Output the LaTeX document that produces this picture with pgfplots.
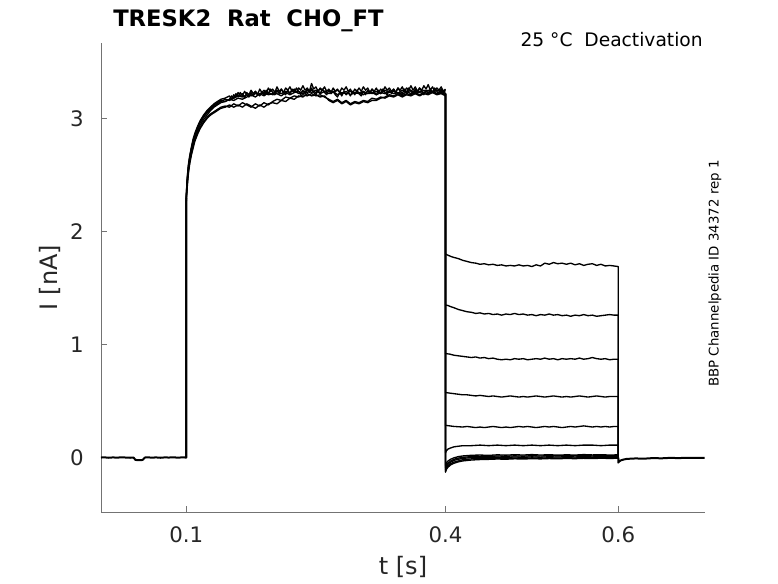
\documentclass[border=0pt]{standalone}
\usepackage{pgfplots}
\pgfplotsset{compat=1.18}
\usepackage{fontspec}
\setmainfont{DejaVu Sans}
\definecolor{txt}{HTML}{262626}
\definecolor{axc}{HTML}{737373}
\begin{document}
\begin{tikzpicture}
\path[use as bounding box] (-75.75pt,-53.25pt) rectangle (507.75pt,384pt);
\begin{axis}[
  at={(0,0)}, anchor=south west,
  scale only axis, width=453pt, height=351.75pt,
  xmin=0.0013, xmax=0.7004, ymin=-0.482, ymax=3.668,
  axis x line=bottom, axis y line=left,
  axis line style={-, draw=axc, line width=0.6pt},
  tick style={draw=axc, line width=0.6pt},
  tick align=inside, major tick length=4.5pt,
  xtick={0.1,0.4,0.6}, ytick={0,1,2,3},
  xticklabels={0.1,0.4,0.6}, yticklabels={0,1,2,3},
  /pgf/number format/assume math mode=true,
  ticklabel style={font=\fontsize{16}{19}\selectfont, text=txt, inner sep=0pt},
  xticklabel style={anchor=north, yshift=-11pt},
  yticklabel style={anchor=east, xshift=-12.75pt},
  xlabel={t [s]}, ylabel={I [nA]},
  label style={font=\fontsize{18}{21}\selectfont, text=txt, inner sep=0pt},
  xlabel style={at={(rel axis cs:0.5,0)}, anchor=center, yshift=-41.25pt},
  ylabel style={at={(rel axis cs:0,0.5)}, anchor=center, yshift=38.25pt},
  clip=false,
  trace/.style={black, line width=1pt, line join=round},
  thick trace/.style={black, line width=1.5pt, line join=round},
]
% baseline (shared)
\addplot[thick trace] coordinates {(0.0013,0.0)(0.005,0.002)(0.01,-0.002)(0.015,0.001)(0.02,-0.001)(0.025,0.002)(0.03,0.0)(0.035,-0.002)(0.039,0.0)(0.041,-0.02)(0.044,-0.024)(0.048,-0.024)(0.05,-0.018)(0.052,0.0)(0.055,0.002)(0.06,-0.001)(0.065,0.001)(0.07,-0.002)(0.075,0.001)(0.08,0.0)(0.085,0.002)(0.09,-0.001)(0.095,0.001)(0.1,0.0)(0.1,2.3)};
% activation
\addplot[trace] coordinates {(0.1,0)(0.1,2.32)(0.1008,2.44)(0.1016,2.52)(0.1026,2.6)(0.104,2.67)(0.106,2.75)(0.108,2.82)(0.11,2.87)(0.113,2.93)(0.116,2.98)(0.12,3.03)(0.124,3.07)(0.128,3.1)(0.132,3.13)(0.136,3.15)(0.14,3.17)(0.145,3.18)
(0.15,3.2)(0.1525,3.17)(0.155,3.21)(0.1575,3.19)(0.16,3.23)(0.1625,3.2)(0.165,3.22)(0.1675,3.18)(0.17,3.23)(0.1725,3.21)(0.175,3.25)(0.1775,3.22)(0.18,3.24)(0.1825,3.21)(0.185,3.26)(0.1875,3.23)(0.19,3.25)(0.1925,3.22)(0.195,3.27)(0.1975,3.24)(0.2,3.26)(0.2025,3.23)(0.205,3.28)(0.2075,3.24)(0.21,3.26)(0.2125,3.23)(0.215,3.27)(0.2175,3.25)(0.22,3.28)(0.2225,3.24)(0.225,3.26)(0.2275,3.23)(0.23,3.27)(0.2325,3.25)(0.235,3.29)(0.2375,3.25)(0.24,3.27)(0.2425,3.24)(0.245,3.31)(0.2475,3.26)(0.25,3.28)(0.2525,3.24)(0.255,3.27)(0.2575,3.25)(0.26,3.28)(0.2625,3.24)(0.265,3.26)(0.2675,3.23)(0.27,3.27)(0.2725,3.24)(0.275,3.26)(0.2775,3.23)(0.28,3.27)(0.2825,3.25)(0.285,3.28)(0.2875,3.24)(0.29,3.26)(0.2925,3.22)(0.295,3.26)(0.2975,3.24)(0.3,3.27)(0.3025,3.24)(0.305,3.28)(0.3075,3.25)(0.31,3.27)(0.3125,3.23)(0.315,3.26)(0.3175,3.24)(0.32,3.27)(0.3225,3.23)(0.325,3.26)(0.3275,3.24)(0.33,3.28)(0.3325,3.25)(0.335,3.27)(0.3375,3.24)(0.34,3.26)(0.3425,3.23)(0.345,3.27)(0.3475,3.25)(0.35,3.28)(0.3525,3.24)(0.355,3.27)(0.3575,3.25)(0.36,3.29)(0.3625,3.25)(0.365,3.28)(0.3675,3.24)(0.37,3.27)(0.3725,3.25)(0.375,3.29)(0.3775,3.26)(0.38,3.3)(0.3825,3.25)(0.385,3.28)(0.3875,3.24)(0.39,3.27)(0.3925,3.25)(0.395,3.28)(0.3975,3.24)(0.4,3.26)};
\addplot[trace] coordinates {(0.1,0)(0.1,2.3)(0.1008,2.42)(0.1016,2.5)(0.1026,2.58)(0.104,2.65)(0.106,2.73)(0.108,2.8)(0.11,2.85)(0.113,2.91)(0.116,2.96)(0.12,3.01)(0.124,3.05)(0.128,3.08)(0.132,3.11)(0.136,3.13)(0.14,3.15)(0.145,3.17)(0.15,3.16)(0.155,3.18)(0.16,3.2)(0.165,3.19)(0.17,3.21)(0.175,3.2)(0.18,3.22)(0.185,3.21)(0.19,3.23)(0.195,3.21)(0.2,3.22)(0.205,3.24)(0.21,3.22)(0.215,3.24)(0.22,3.23)(0.225,3.25)(0.23,3.22)(0.235,3.24)(0.24,3.23)(0.245,3.25)(0.25,3.23)(0.255,3.26)(0.26,3.24)(0.265,3.25)(0.27,3.23)(0.275,3.25)(0.28,3.22)(0.285,3.24)(0.29,3.21)(0.295,3.23)(0.3,3.22)(0.305,3.24)(0.31,3.22)(0.315,3.23)(0.32,3.21)(0.325,3.23)(0.33,3.22)(0.335,3.24)(0.34,3.22)(0.345,3.23)(0.35,3.21)(0.355,3.24)(0.36,3.22)(0.365,3.24)(0.37,3.23)(0.375,3.25)(0.38,3.23)(0.385,3.24)(0.39,3.22)(0.395,3.25)(0.4,3.23)};
\addplot[trace] coordinates {(0.1,0)(0.1,2.28)(0.1008,2.38)(0.1016,2.46)(0.1026,2.54)(0.104,2.61)(0.106,2.69)(0.108,2.76)(0.11,2.81)(0.113,2.87)(0.116,2.92)(0.12,2.97)(0.124,3.01)(0.128,3.04)(0.132,3.06)(0.136,3.08)(0.14,3.1)(0.145,3.11)(0.15,3.1)(0.155,3.13)(0.16,3.11)(0.165,3.14)(0.17,3.12)(0.175,3.1)(0.18,3.13)(0.185,3.11)(0.19,3.14)(0.195,3.12)(0.2,3.15)(0.205,3.17)(0.21,3.16)(0.215,3.19)(0.22,3.18)(0.225,3.2)(0.23,3.19)(0.235,3.21)(0.24,3.2)(0.245,3.22)(0.25,3.2)(0.255,3.21)(0.26,3.19)(0.265,3.17)(0.27,3.15)(0.275,3.17)(0.28,3.14)(0.285,3.16)(0.29,3.13)(0.295,3.15)(0.3,3.14)(0.305,3.16)(0.31,3.15)(0.315,3.18)(0.32,3.17)(0.325,3.19)(0.33,3.18)(0.335,3.2)(0.34,3.19)(0.345,3.21)(0.35,3.19)(0.355,3.21)(0.36,3.2)(0.365,3.22)(0.37,3.2)(0.375,3.22)(0.38,3.21)(0.385,3.23)(0.39,3.21)(0.395,3.22)(0.4,3.2)};
\addplot[trace] coordinates {(0.1,0)(0.1,2.26)(0.1008,2.36)(0.1016,2.44)(0.1026,2.52)(0.104,2.6)(0.106,2.68)(0.108,2.74)(0.11,2.8)(0.113,2.86)(0.116,2.91)(0.12,2.96)(0.124,3.0)(0.128,3.03)(0.132,3.05)(0.136,3.07)(0.14,3.09)(0.145,3.1)(0.15,3.12)(0.155,3.1)(0.16,3.12)(0.165,3.1)(0.17,3.13)(0.175,3.11)(0.18,3.09)(0.185,3.12)(0.19,3.1)(0.195,3.13)(0.2,3.14)(0.205,3.13)(0.21,3.16)(0.215,3.15)(0.22,3.18)(0.225,3.17)(0.23,3.2)(0.235,3.19)(0.24,3.22)(0.245,3.2)(0.25,3.21)(0.255,3.19)(0.26,3.2)(0.265,3.16)(0.27,3.14)(0.275,3.16)(0.28,3.13)(0.285,3.15)(0.29,3.12)(0.295,3.14)(0.3,3.13)(0.305,3.15)(0.31,3.14)(0.315,3.16)(0.32,3.16)(0.325,3.18)(0.33,3.19)(0.335,3.21)(0.34,3.2)(0.345,3.22)(0.35,3.2)(0.355,3.22)(0.36,3.21)(0.365,3.23)(0.37,3.21)(0.375,3.23)(0.38,3.22)(0.385,3.24)(0.39,3.22)(0.395,3.23)(0.4,3.21)};
\addplot[trace] coordinates {(0.1,0)(0.1,2.31)(0.1008,2.43)(0.1016,2.51)(0.1026,2.59)(0.104,2.66)(0.106,2.74)(0.108,2.81)(0.11,2.86)(0.113,2.92)(0.116,2.97)(0.12,3.02)(0.124,3.06)(0.128,3.09)(0.132,3.12)(0.136,3.14)(0.14,3.16)(0.145,3.15)
(0.15,3.17)(0.1525,3.2)(0.155,3.18)(0.1575,3.22)(0.16,3.19)(0.1625,3.23)(0.165,3.2)(0.1675,3.24)(0.17,3.21)(0.1725,3.19)(0.175,3.23)(0.1775,3.2)(0.18,3.24)(0.1825,3.22)(0.185,3.2)(0.1875,3.24)(0.19,3.21)(0.1925,3.25)(0.195,3.22)(0.1975,3.26)(0.2,3.23)(0.2025,3.21)(0.205,3.25)(0.2075,3.22)(0.21,3.26)(0.2125,3.23)(0.215,3.21)(0.2175,3.25)(0.22,3.22)(0.2225,3.26)(0.225,3.23)(0.2275,3.27)(0.23,3.24)(0.2325,3.21)(0.235,3.25)(0.2375,3.22)(0.24,3.26)(0.2425,3.23)(0.245,3.27)(0.2475,3.23)(0.25,3.21)(0.2525,3.25)(0.255,3.22)(0.2575,3.26)(0.26,3.23)(0.2625,3.21)(0.265,3.25)(0.2675,3.22)(0.27,3.24)(0.2725,3.21)(0.275,3.19)(0.2775,3.23)(0.28,3.2)(0.2825,3.24)(0.285,3.21)(0.2875,3.23)(0.29,3.2)(0.2925,3.24)(0.295,3.21)(0.2975,3.25)(0.3,3.22)(0.3025,3.2)(0.305,3.24)(0.3075,3.21)(0.31,3.25)(0.3125,3.22)(0.315,3.26)(0.3175,3.23)(0.32,3.21)(0.3225,3.25)(0.325,3.22)(0.3275,3.26)(0.33,3.23)(0.3325,3.21)(0.335,3.25)(0.3375,3.22)(0.34,3.26)(0.3425,3.23)(0.345,3.27)(0.3475,3.24)(0.35,3.22)(0.3525,3.26)(0.355,3.23)(0.3575,3.27)(0.36,3.24)(0.3625,3.22)(0.365,3.26)(0.3675,3.23)(0.37,3.27)(0.3725,3.24)(0.375,3.21)(0.3775,3.25)(0.38,3.22)(0.3825,3.26)(0.385,3.23)(0.3875,3.27)(0.39,3.24)(0.3925,3.22)(0.395,3.26)(0.3975,3.23)(0.4,3.25)};
\addplot[trace] coordinates {(0.1,0)(0.1,2.29)(0.1008,2.4)(0.1016,2.48)(0.1026,2.56)(0.104,2.63)(0.106,2.71)(0.108,2.78)(0.11,2.83)(0.113,2.89)(0.116,2.94)(0.12,2.99)(0.124,3.03)(0.128,3.07)(0.132,3.1)(0.136,3.12)(0.14,3.14)(0.145,3.15)(0.15,3.17)(0.155,3.16)(0.16,3.18)(0.165,3.17)(0.17,3.19)(0.175,3.21)(0.18,3.19)(0.185,3.22)(0.19,3.2)(0.195,3.23)(0.2,3.21)(0.205,3.22)(0.21,3.2)(0.215,3.23)(0.22,3.21)(0.225,3.23)(0.23,3.24)(0.235,3.22)(0.24,3.25)(0.245,3.23)(0.25,3.25)(0.255,3.22)(0.26,3.24)(0.265,3.22)(0.27,3.24)(0.275,3.21)(0.28,3.23)(0.285,3.22)(0.29,3.24)(0.295,3.22)(0.3,3.23)(0.305,3.21)(0.31,3.24)(0.315,3.22)(0.32,3.24)(0.325,3.22)(0.33,3.25)(0.335,3.23)(0.34,3.24)(0.345,3.22)(0.35,3.25)(0.355,3.23)(0.36,3.25)(0.365,3.22)(0.37,3.24)(0.375,3.23)(0.38,3.25)(0.385,3.23)(0.39,3.25)(0.395,3.24)(0.4,3.22)};
% deactivation
\addplot[trace] coordinates {(0.4,3.22)(0.4,1.80)(0.403,1.79)(0.406,1.78)(0.41,1.77)(0.415,1.76)(0.42,1.745)(0.425,1.735)(0.43,1.725)(0.435,1.72)(0.44,1.71)(0.445,1.715)(0.45,1.705)(0.455,1.71)(0.46,1.70)(0.465,1.705)(0.47,1.695)(0.475,1.70)(0.48,1.695)(0.485,1.705)(0.49,1.695)(0.495,1.70)(0.5,1.69)(0.505,1.705)(0.51,1.695)(0.515,1.72)(0.52,1.71)(0.525,1.725)(0.53,1.715)(0.535,1.72)(0.54,1.71)(0.545,1.72)(0.55,1.705)(0.555,1.715)(0.56,1.70)(0.565,1.71)(0.57,1.715)(0.575,1.70)(0.58,1.71)(0.585,1.695)(0.59,1.70)(0.595,1.695)(0.6,1.69)(0.6,0)};
\addplot[trace] coordinates {(0.4,3.22)(0.4,1.35)(0.403,1.345)(0.406,1.335)(0.41,1.325)(0.415,1.31)(0.42,1.30)(0.425,1.29)(0.43,1.285)(0.435,1.275)(0.44,1.28)(0.445,1.27)(0.45,1.275)(0.455,1.265)(0.46,1.27)(0.465,1.26)(0.47,1.27)(0.475,1.265)(0.48,1.275)(0.485,1.265)(0.49,1.27)(0.495,1.26)(0.5,1.265)(0.505,1.255)(0.51,1.265)(0.515,1.26)(0.52,1.27)(0.525,1.26)(0.53,1.265)(0.535,1.255)(0.54,1.26)(0.545,1.25)(0.55,1.26)(0.555,1.255)(0.56,1.265)(0.565,1.255)(0.57,1.26)(0.575,1.25)(0.58,1.255)(0.585,1.26)(0.59,1.265)(0.595,1.26)(0.6,1.26)(0.6,0)};
\addplot[trace] coordinates {(0.4,3.22)(0.4,0.92)(0.405,0.915)(0.41,0.905)(0.415,0.90)(0.42,0.895)(0.425,0.89)(0.43,0.885)(0.435,0.89)(0.44,0.88)(0.445,0.885)(0.45,0.875)(0.455,0.88)(0.46,0.87)(0.465,0.865)(0.47,0.87)(0.475,0.865)(0.48,0.875)(0.485,0.87)(0.49,0.875)(0.495,0.865)(0.5,0.87)(0.505,0.875)(0.51,0.87)(0.515,0.88)(0.52,0.87)(0.525,0.875)(0.53,0.865)(0.535,0.875)(0.54,0.87)(0.545,0.875)(0.55,0.87)(0.555,0.88)(0.56,0.87)(0.565,0.875)(0.57,0.885)(0.575,0.875)(0.58,0.87)(0.585,0.875)(0.59,0.865)(0.595,0.87)(0.6,0.87)(0.6,0)};
\addplot[trace] coordinates {(0.4,3.22)(0.4,0.575)(0.405,0.57)(0.41,0.565)(0.415,0.56)(0.42,0.555)(0.425,0.555)(0.43,0.55)(0.435,0.545)(0.44,0.55)(0.445,0.545)(0.45,0.54)(0.455,0.545)(0.46,0.54)(0.465,0.535)(0.47,0.54)(0.475,0.545)(0.48,0.54)(0.485,0.535)(0.49,0.54)(0.495,0.535)(0.5,0.54)(0.505,0.545)(0.51,0.54)(0.515,0.535)(0.52,0.54)(0.525,0.545)(0.53,0.54)(0.535,0.535)(0.54,0.54)(0.545,0.535)(0.55,0.54)(0.555,0.545)(0.56,0.54)(0.565,0.535)(0.57,0.54)(0.575,0.545)(0.58,0.54)(0.585,0.535)(0.59,0.54)(0.595,0.54)(0.6,0.54)(0.6,0)};
\addplot[trace] coordinates {(0.4,3.22)(0.4,0.285)(0.405,0.28)(0.41,0.275)(0.42,0.27)(0.425,0.275)(0.43,0.27)(0.435,0.265)(0.44,0.27)(0.445,0.265)(0.45,0.27)(0.455,0.275)(0.46,0.27)(0.465,0.265)(0.47,0.27)(0.475,0.265)(0.48,0.27)(0.485,0.275)(0.49,0.27)(0.495,0.275)(0.5,0.27)(0.505,0.265)(0.51,0.27)(0.515,0.275)(0.52,0.27)(0.525,0.275)(0.53,0.27)(0.535,0.265)(0.54,0.27)(0.545,0.275)(0.55,0.27)(0.555,0.275)(0.56,0.28)(0.565,0.275)(0.57,0.27)(0.575,0.275)(0.58,0.27)(0.585,0.275)(0.59,0.27)(0.595,0.275)(0.6,0.275)(0.6,0)};
\addplot[trace] coordinates {(0.4,3.22)(0.4,0.04)(0.401,0.06)(0.403,0.075)(0.406,0.085)(0.41,0.095)(0.415,0.1)(0.42,0.105)(0.43,0.105)(0.44,0.11)(0.45,0.105)(0.46,0.11)(0.47,0.105)(0.48,0.11)(0.49,0.105)(0.5,0.11)(0.51,0.105)(0.52,0.11)(0.53,0.105)(0.54,0.11)(0.55,0.105)(0.56,0.11)(0.57,0.11)(0.58,0.105)(0.59,0.11)(0.6,0.11)(0.6,0)};
\addplot[trace] coordinates {(0.4,3.22)(0.4,-0.13)(0.401,-0.1)(0.403,-0.075)(0.406,-0.055)(0.41,-0.04)(0.415,-0.03)(0.42,-0.02)(0.43,-0.012)(0.44,-0.008)(0.45,-0.01)(0.46,-0.005)(0.47,-0.008)(0.48,-0.004)(0.49,-0.007)(0.5,-0.003)(0.51,-0.006)(0.52,-0.002)(0.53,-0.005)(0.54,-0.002)(0.55,-0.004)(0.56,0.0)(0.57,-0.003)(0.58,0.0)(0.59,-0.002)(0.6,0.0)};
\addplot[trace] coordinates {(0.4,3.22)(0.4,-0.11)(0.401,-0.085)(0.403,-0.06)(0.406,-0.04)(0.41,-0.025)(0.415,-0.015)(0.42,-0.008)(0.43,0.0)(0.44,0.003)(0.45,0.0)(0.46,0.004)(0.47,0.001)(0.48,0.005)(0.49,0.002)(0.5,0.006)(0.51,0.003)(0.52,0.007)(0.53,0.004)(0.54,0.008)(0.55,0.005)(0.56,0.008)(0.57,0.005)(0.58,0.009)(0.59,0.006)(0.6,0.008)};
\addplot[trace] coordinates {(0.4,3.22)(0.4,-0.09)(0.401,-0.07)(0.403,-0.05)(0.406,-0.03)(0.41,-0.015)(0.415,-0.005)(0.42,0.002)(0.43,0.008)(0.44,0.012)(0.45,0.009)(0.46,0.014)(0.47,0.011)(0.48,0.015)(0.49,0.012)(0.5,0.016)(0.51,0.013)(0.52,0.017)(0.53,0.014)(0.54,0.018)(0.55,0.015)(0.56,0.018)(0.57,0.014)(0.58,0.017)(0.59,0.015)(0.6,0.016)};
\addplot[trace] coordinates {(0.4,3.22)(0.4,-0.07)(0.401,-0.05)(0.403,-0.03)(0.406,-0.015)(0.41,-0.002)(0.415,0.008)(0.42,0.014)(0.43,0.02)(0.44,0.022)(0.45,0.019)(0.46,0.024)(0.47,0.021)(0.48,0.025)(0.49,0.022)(0.5,0.026)(0.51,0.022)(0.52,0.025)(0.53,0.021)(0.54,0.024)(0.55,0.022)(0.56,0.026)(0.57,0.023)(0.58,0.025)(0.59,0.022)(0.6,0.024)};
\addplot[trace] coordinates {(0.4,3.22)(0.4,-0.125)(0.401,-0.105)(0.403,-0.085)(0.406,-0.065)(0.41,-0.05)(0.415,-0.038)(0.42,-0.03)(0.43,-0.022)(0.44,-0.018)(0.45,-0.016)(0.46,-0.013)(0.47,-0.015)(0.48,-0.011)(0.49,-0.013)(0.5,-0.01)(0.51,-0.012)(0.52,-0.009)(0.53,-0.011)(0.54,-0.008)(0.55,-0.01)(0.56,-0.007)(0.57,-0.009)(0.58,-0.006)(0.59,-0.008)(0.6,-0.006)};
% tail (shared)
\addplot[thick trace] coordinates {(0.6,0.0)(0.6,-0.045)(0.601,-0.035)(0.603,-0.025)(0.606,-0.018)(0.61,-0.012)(0.62,-0.008)(0.63,-0.01)(0.64,-0.005)(0.65,-0.007)(0.66,-0.003)(0.67,-0.005)(0.68,-0.002)(0.69,-0.004)(0.7,-0.002)};
\end{axis}
\node[anchor=base west, inner sep=0pt, text=black, font=\fontsize{17}{20}\selectfont\bfseries] at (9pt,363.75pt) {TRESK2\ \ Rat\ \ CHO\_FT};
\node[anchor=base east, inner sep=0pt, text=black, font=\fontsize{14}{17}\selectfont] at (451.5pt,349pt) {25 °C\ \ Deactivation};
\node[rotate=90, anchor=center, inner sep=0pt, text=black, font=\fontsize{10}{12}\selectfont] at (460.5pt,178.9pt) {BBP Channelpedia ID 34372 rep 1};
\end{tikzpicture}
\end{document}
